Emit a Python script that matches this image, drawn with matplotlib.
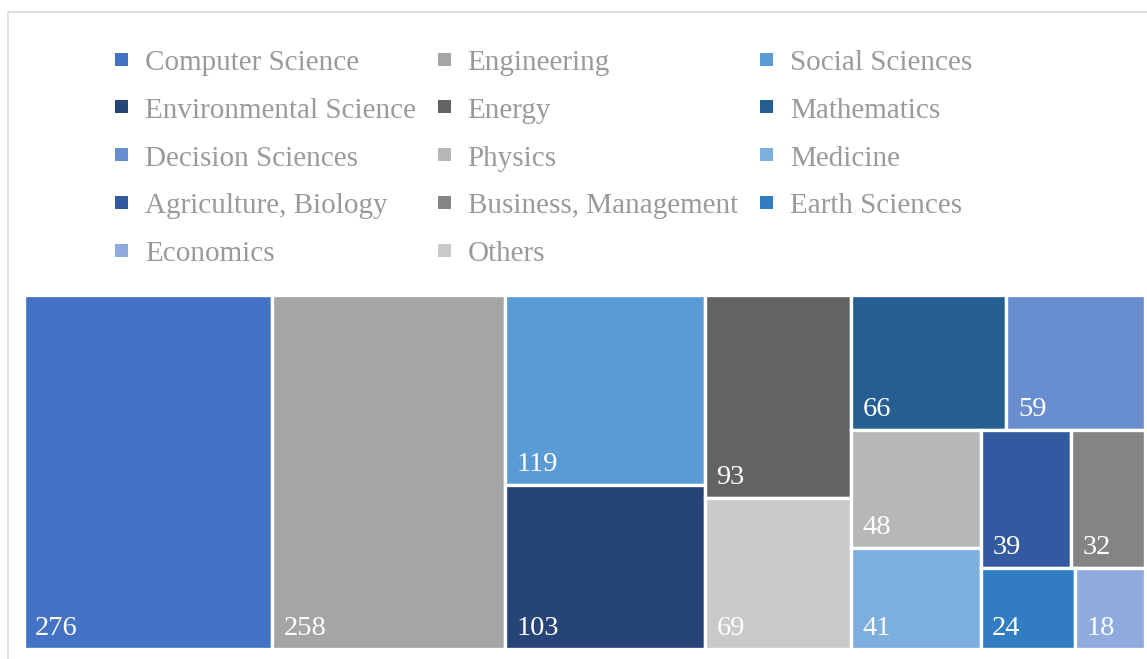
import matplotlib.pyplot as plt
from matplotlib.patches import Rectangle

# data (sorted by value, as the treemap lays them out)
categories = ['Computer Science', 'Engineering', 'Social Sciences', 'Environmental Science',
              'Energy', 'Others', 'Mathematics', 'Decision Sciences', 'Physics', 'Medicine',
              'Agriculture, Biology', 'Business, Management', 'Earth Sciences', 'Economics']
values = [276, 258, 119, 103, 93, 69, 66, 59, 48, 41, 39, 32, 24, 18]

# legend order (row by row, 3 per row)
legend_order = ['Computer Science', 'Engineering', 'Social Sciences',
                'Environmental Science', 'Energy', 'Mathematics',
                'Decision Sciences', 'Physics', 'Medicine',
                'Agriculture, Biology', 'Business, Management', 'Earth Sciences',
                'Economics', 'Others']

colors = {
    'Computer Science': '#4472C4', 'Engineering': '#A5A5A5', 'Social Sciences': '#5B9BD5',
    'Environmental Science': '#264478', 'Energy': '#636363', 'Mathematics': '#255E91',
    'Decision Sciences': '#698ED0', 'Physics': '#B7B7B7', 'Medicine': '#7CAFDD',
    'Agriculture, Biology': '#335AA1', 'Business, Management': '#848484',
    'Earth Sciences': '#327DC2', 'Economics': '#8FAADC', 'Others': '#C9C9C9',
}


def worst(row, side):
    s = sum(row)
    return max(max(side * side * r / (s * s), s * s / (side * side * r)) for r in row)


def squarify(areas, x, y, w, h):
    rects = []
    areas = list(areas)
    while areas:
        side = min(w, h)
        row = [areas[0]]
        k = 1
        while k < len(areas) and worst(row + [areas[k]], side) <= worst(row, side):
            row.append(areas[k])
            k += 1
        areas = areas[k:]
        s = sum(row)
        if w >= h:
            cw = s / h
            yy = y
            for a in row:
                rh = a / cw
                rects.append((x, yy, cw, rh))
                yy += rh
            x += cw
            w -= cw
        else:
            rh = s / w
            xx = x
            for a in row:
                rw = a / rh
                rects.append((xx, y, rw, rh))
                xx += rw
            y += rh
            h -= rh
    return rects


FW, FH = 1147, 659
fig = plt.figure(figsize=(FW / 100, FH / 100), dpi=100)

# chart border
fig.patches.append(Rectangle((8 / FW, -0.1), 1.2, (FH - 12) / FH + 0.1,
                             transform=fig.transFigure, fill=False,
                             edgecolor='#D9D9D9', linewidth=1.2))

# plot area in pixel units
left, right, top, bottom = 23.5, 1145.5, 295, 649
W, H = right - left, bottom - top
ax = fig.add_axes([left / FW, (FH - bottom) / FH, W / FW, H / FH])
ax.set_xlim(0, W)
ax.set_ylim(H, 0)
ax.axis('off')

total = sum(values)
areas = [v * W * H / total for v in values]
rects = squarify(areas, 0, 0, W, H)

for (x, y, w, h), name, v in zip(rects, categories, values):
    ax.add_patch(Rectangle((x, y), w, h, facecolor=colors[name],
                           edgecolor='white', linewidth=2.4))
    ax.text(x + 11.5, y + h - 14, str(v), color='white', fontsize=20.5,
            family='Liberation Serif', ha='left', va='baseline')

# legend
for i, name in enumerate(legend_order):
    r, c = divmod(i, 3)
    mx = 115 + c * 322.5
    my = 59 + r * 47.8
    fig.patches.append(Rectangle((mx / FW, (FH - my - 6.5) / FH), 13 / FW, 13 / FH,
                                 transform=fig.transFigure, facecolor=colors[name],
                                 edgecolor='none'))
    fig.text((mx + 30) / FW, (FH - my - 11) / FH, name, color='#9A9A9A',
             fontsize=21, family='Liberation Serif', ha='left', va='baseline')

fig.savefig('out.png', dpi=100)
